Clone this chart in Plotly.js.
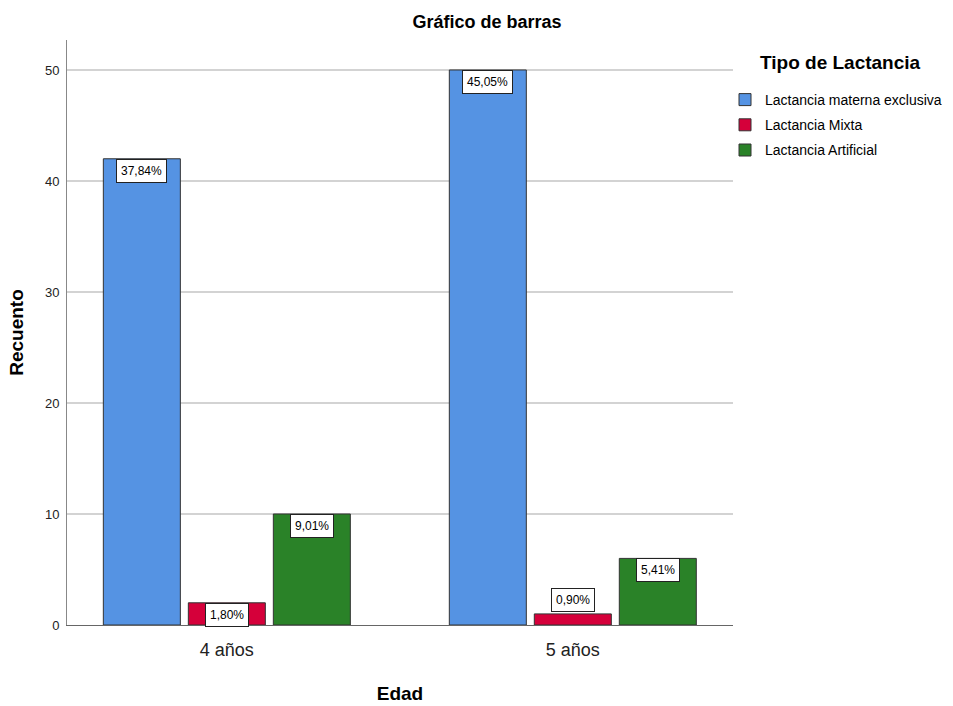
<!DOCTYPE html>
<html>
<head>
<meta charset="utf-8">
<script src="https://cdn.plot.ly/plotly-3.0.1.min.js"></script>
<style>html,body{margin:0;padding:0;background:#fff;}#chart{width:953px;height:706px;}</style>
</head>
<body>
<div id="chart"></div>
<script>
const categories = ["4 años", "5 años"];
const seriesNames = ["Lactancia materna exclusiva", "Lactancia Mixta", "Lactancia Artificial"];
const exclusiva = [42, 50];
const mixta = [2, 1];
const artificial = [10, 6];
const exclusivaPct = ["37,84%", "45,05%"];
const mixtaPct = ["1,80%", "0,90%"];
const artificialPct = ["9,01%", "5,41%"];
const colors = ["#5593E3", "#D5003A", "#2A8228"];
const legendTitle = "Tipo de Lactancia";

const FONT = "Liberation Sans, Arial, sans-serif";
const series = [exclusiva, mixta, artificial];
const labels = [exclusivaPct, mixtaPct, artificialPct];

const bargap = 0.263;
const traces = series.map((vals, i) => ({
  type: "bar",
  name: seriesNames[i],
  legendgroup: "g" + i,
  x: categories,
  y: vals,
  marker: {color: colors[i], line: {color: "#333333", width: 1}},
  hoverinfo: "skip"
}));

const slot = (1 - bargap) / series.length;
const annotations = [];
series.forEach((vals, i) => {
  vals.forEach((v, j) => {
    const inside = v >= 2;
    annotations.push({
      xref: "x", yref: "y",
      x: j + (i - (series.length - 1) / 2) * slot,
      y: v,
      yanchor: inside ? "top" : "bottom",
      yshift: inside ? 0 : 2,
      text: labels[i][j],
      showarrow: false,
      bgcolor: "#ffffff",
      bordercolor: "#222222",
      borderwidth: 1,
      borderpad: 4,
      font: {family: FONT, size: 12, color: "#000"}
    });
  });
});
annotations.push({
  xref: "paper", yref: "paper",
  x: (840 - 67) / 666, y: (625 - 63) / 585,
  xanchor: "center", yanchor: "middle",
  text: "<b>" + legendTitle + "</b>",
  showarrow: false,
  font: {family: FONT, size: 19, color: "#000"}
});

const layout = {
  width: 953, height: 706,
  margin: {l: 67, r: 220, t: 40, b: 81, autoexpand: false},
  paper_bgcolor: "#ffffff",
  plot_bgcolor: "#ffffff",
  font: {family: FONT, color: "#000"},
  title: {text: "<b>Gráfico de barras</b>", font: {family: FONT, size: 18, color: "#000"},
          x: 487/953, xref: "container", xanchor: "center", y: 1 - 22/706, yanchor: "middle"},
  barmode: "group",
  bargap: bargap,
  bargroupgap: 0.094,
  xaxis: {
    type: "category",
    range: [-0.462, 1.463],
    showgrid: false,
    showline: true, linecolor: "#666666", linewidth: 1,
    ticks: "", tickfont: {family: FONT, size: 18, color: "#222"},
    ticklabelstandoff: 8,
    title: {text: "<b>Edad</b>", font: {family: FONT, size: 19, color: "#000"}, standoff: 28},
    zeroline: false
  },
  yaxis: {
    range: [0, 52.7],
    tickvals: [0, 10, 20, 30, 40, 50],
    showgrid: true, gridcolor: "#D3D3D3", gridwidth: 2,
    showline: true, linecolor: "#888888", linewidth: 1,
    ticks: "", tickfont: {family: FONT, size: 13, color: "#222"},
    ticklabelstandoff: 4,
    title: {text: "<b>Recuento</b>", font: {family: FONT, size: 19, color: "#000"}, standoff: 16},
    zeroline: false
  },
  legend: {
    x: 725/953, xref: "container", xanchor: "left",
    y: 1 - 84/706, yref: "container", yanchor: "top",
    font: {family: FONT, size: 14, color: "#000"},
    tracegroupgap: 4,
    itemwidth: 30,
    bgcolor: "rgba(0,0,0,0)"
  },
  annotations: annotations,
  showlegend: true
};

Plotly.newPlot("chart", traces, layout, {displayModeBar: false, staticPlot: true});
</script>
</body>
</html>
